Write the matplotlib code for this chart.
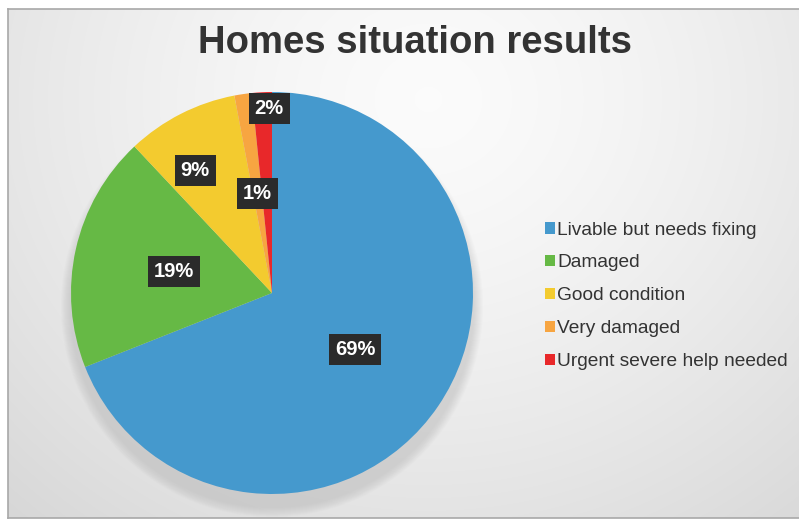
import numpy as np
import matplotlib.pyplot as plt
from matplotlib.patches import Circle

# data
labels = ["Livable but needs fixing", "Damaged", "Good condition",
          "Very damaged", "Urgent severe help needed"]
values = [69, 19, 9, 1.4, 1.6]
colors = ['#4599cd', '#66b945', '#f3cb2f', '#f7a541', '#e8282a']
pct_text = ["69%", "19%", "9%", "1%", "2%"]
label_r = [0.50, 0.50, 0.72, 0.50, 0.92]     # radial position of labels
label_shift = [0, 0, 5, 0, -2]               # deg offset from wedge middle

plt.rcParams['font.family'] = ['Liberation Sans', 'DejaVu Sans']

W, H = 799, 521
fig = plt.figure(figsize=(W/100, H/100), dpi=100)
fig.patch.set_facecolor('white')

# background panel with soft radial gradient
bg = fig.add_axes([8/W, 3/H, 791/W, 509/H])
yy, xx = np.mgrid[0:509, 0:791]
d = np.sqrt(((xx - 420)/1.1)**2 + (yy - 90)**2)
g = np.clip(d/560, 0, 1)
shade = 0.985 - 0.14*g**1.4
img = np.dstack([shade, shade, shade])
bg.imshow(img, aspect='auto', extent=[0, 791, 509, 0])
bg.set_xlim(0, 791)
bg.set_ylim(509, 0)
bg.set_xticks([])
bg.set_yticks([])
for s in bg.spines.values():
    s.set_color('#a8a8a8')
    s.set_linewidth(1.2)
bg.spines['right'].set_visible(False)

# soft shadow behind pie
cx, cy, r = 272, 293, 201
for i in range(10):
    bg.add_patch(Circle((cx - 8, cy + 4), r + 10 - i, color='#9a9a9a',
                        alpha=0.03, lw=0))

# pie
ax = fig.add_axes([(cx - r)/W, (H - cy - r)/H, 2*r/W, 2*r/H])
wedges, _ = ax.pie(values, colors=colors, startangle=90, counterclock=False,
                   radius=1.0, wedgeprops=dict(linewidth=0))
ax.set_xlim(-1, 1)
ax.set_ylim(-1, 1)
ax.set_aspect('equal')
ax.axis('off')

for w, t, rr, sh in zip(wedges, pct_text, label_r, label_shift):
    ang = np.deg2rad((w.theta1 + w.theta2)/2 + sh)
    ax.text(rr*np.cos(ang), rr*np.sin(ang), t, ha='center', va='center',
            color='white', fontsize=14.5, fontweight='bold',
            bbox=dict(boxstyle='square,pad=0.3', fc='#2b2b2b', ec='none'))

fig.text(415/W, 1 - 43/H, "Homes situation results", ha='center',
         va='center', fontsize=27.5, fontweight='bold', color='#333333')

leg = fig.legend(wedges, labels, loc='upper left',
                 bbox_to_anchor=(535/W, 1 - 212/H), frameon=False,
                 fontsize=13.8, handlelength=0.55, handleheight=0.55,
                 handletextpad=0.12, labelspacing=0.83, borderpad=0)
for t in leg.get_texts():
    t.set_color('#333333')

fig.savefig('out.png', dpi=100)
